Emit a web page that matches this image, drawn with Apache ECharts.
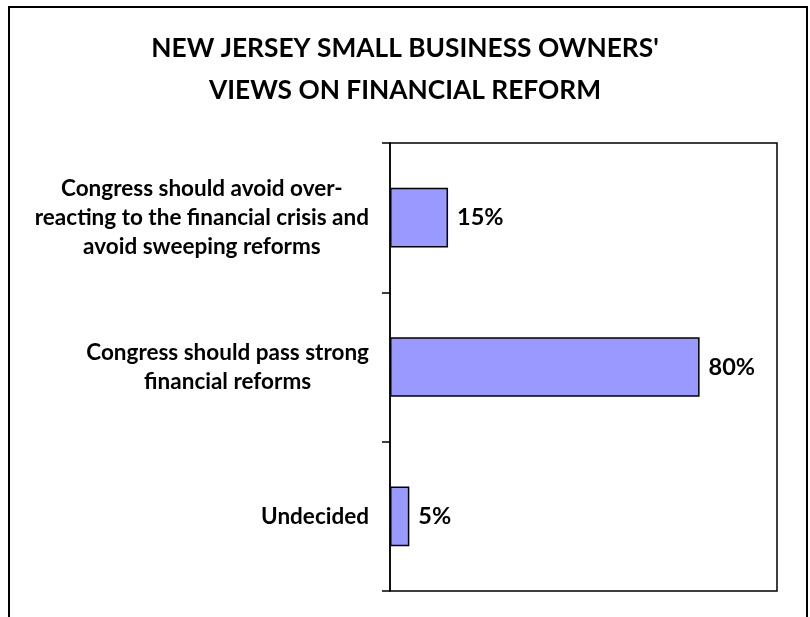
<!DOCTYPE html>
<html>
<head>
<meta charset="utf-8">
<script src="https://cdn.jsdelivr.net/npm/echarts@6/dist/echarts.min.js"></script>
<style>
html,body{margin:0;padding:0;background:#fff;}
#chart{width:810px;height:617px;}
</style>
</head>
<body>
<div id="chart"></div>
<script>
const titleText = "NEW JERSEY SMALL BUSINESS OWNERS'\nVIEWS ON FINANCIAL REFORM";
const categories = [
  "Congress should avoid over-\nreacting to the financial crisis and\navoid sweeping reforms",
  "Congress should pass strong\nfinancial reforms",
  "Undecided"
];
const values = [15, 80, 5];

const FONT = 'Lato';
const chart = echarts.init(document.getElementById('chart'), null, {renderer: 'canvas'});
chart.setOption({
  backgroundColor: '#ffffff',
  animation: false,
  title: {
    text: titleText,
    left: 'center',
    top: 23,
    textStyle: {fontFamily: FONT, fontWeight: 'bold', fontSize: 26.3, lineHeight: 42, color: '#000'}
  },
  graphic: [{
    type: 'rect',
    shape: {x: 9, y: 7, width: 798, height: 640},
    style: {fill: 'none', stroke: '#000', lineWidth: 2},
    silent: true
  }],
  grid: {
    left: 390, right: 33, top: 143, bottom: 26,
    show: true, borderColor: '#000', borderWidth: 1.5, backgroundColor: 'transparent'
  },
  xAxis: {
    type: 'value', min: 0, max: 100, show: false
  },
  yAxis: {
    type: 'category',
    data: categories,
    inverse: true,
    axisLine: {show: true, lineStyle: {color: '#000', width: 1.5}},
    axisTick: {show: true, length: 8, inside: false, lineStyle: {color: '#000', width: 1.5}},
    axisLabel: {
      margin: 21,
      formatter: function (v) {
        return v.split('\n').map(function (l) { return '{c|' + l + '}'; }).join('\n');
      },
      rich: {
        c: {align: 'center', fontFamily: FONT, fontWeight: 'bold', fontSize: 22.5, lineHeight: 29, color: '#000'}
      }
    },
    splitLine: {show: false}
  },
  series: [{
    type: 'bar',
    data: values,
    barWidth: '40%',
    itemStyle: {color: '#9999FF', borderColor: '#000', borderWidth: 1.5},
    label: {
      show: true, position: 'right', distance: 9,
      formatter: '{c}%',
      fontFamily: FONT, fontWeight: 'bold', fontSize: 23.5, color: '#000'
    }
  }]
});
</script>
</body>
</html>
